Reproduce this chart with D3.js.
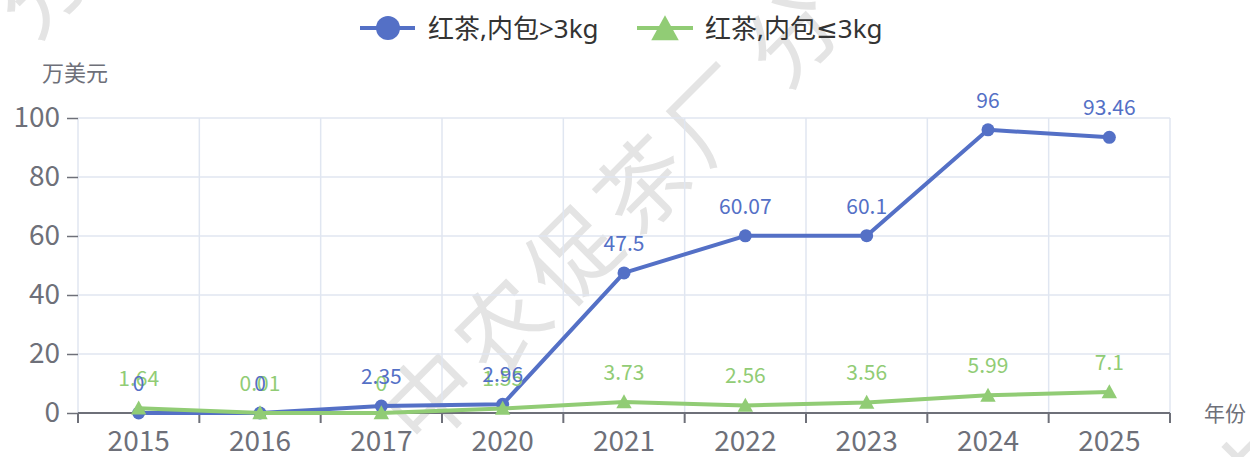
<!DOCTYPE html>
<html><head><meta charset="utf-8">
<script src="https://cdn.jsdelivr.net/npm/d3@7/dist/d3.min.js"></script>
<style>body{margin:0;background:#fff;} svg{display:block;}</style>
</head><body>
<svg id="chart" width="1250" height="457"></svg>
<script>
// ---- data ----
const years = ["2015","2016","2017","2020","2021","2022","2023","2024","2025"];
const seriesNames = ["红茶,内包>3kg", "红茶,内包≤3kg"];
const bigPack = [0, 0, 2.35, 2.96, 47.5, 60.07, 60.1, 96, 93.46];
const smallPack = [1.64, 0.01, 0, 1.55, 3.73, 2.56, 3.56, 5.99, 7.1];
const yTicks = [0, 20, 40, 60, 80, 100];
const yUnit = "万美元";
const xUnit = "年份";
const watermark = "中农促茶厂分";

// ---- setup ----
const svg = d3.select("#chart");
const FONT = "'Noto Sans CJK SC','Noto Sans',sans-serif";
const LEGFONT = "'Noto Sans','DejaVu Sans','Noto Sans CJK SC',sans-serif";
const AXIS = "#6e7079", GRID = "#e0e6f1";
const BLUE = "#5470c6", GREEN = "#91cc75";
const L = 78, R = 1170, B = 413, T = 118;

const x = d3.scaleBand().domain(years).range([L, R]);
const y = d3.scaleLinear().domain([0, 100]).range([B, T]);

// watermark
const wm = svg.append("g");
[[427, 393], [-324, 344], [1250, 470]].forEach(([wx, wy]) => {
  const g = wm.append("g").attr("transform", `translate(${wx},${wy}) rotate(-45)`);
  g.selectAll("text").data(watermark.split("")).join("text")
    .attr("x", (d, i) => i * 100 + (i >= 5 ? 10 : 0))
    .attr("y", 0)
    .attr("text-anchor", "middle")
    .attr("dominant-baseline", "central")
    .attr("font-family", FONT).attr("font-weight", 400)
    .attr("font-size", 90).attr("fill", "#e4e4e4")
    .text(d => d);
});

// grid
const bounds = years.map(d => x(d)).concat([R]);
svg.append("g").selectAll("line").data(bounds).join("line")
  .attr("x1", d => d).attr("x2", d => d).attr("y1", T).attr("y2", B)
  .attr("stroke", GRID).attr("stroke-width", 1.5);
svg.append("g").selectAll("line").data(yTicks.filter(v => v > 0)).join("line")
  .attr("x1", L).attr("x2", R).attr("y1", d => y(d)).attr("y2", d => y(d))
  .attr("stroke", GRID).attr("stroke-width", 1.5);

// y axis
const yAxis = svg.append("g").attr("transform", `translate(${L},0)`)
  .call(d3.axisLeft(y).tickValues(yTicks).tickSize(11).tickPadding(7));
yAxis.select(".domain").remove();
yAxis.selectAll("line").attr("stroke", AXIS).attr("stroke-width", 1.5);
yAxis.selectAll("text").attr("font-family", FONT).attr("font-size", 28).attr("fill", AXIS);

// x axis
const xAxis = svg.append("g").attr("transform", `translate(0,${B})`)
  .call(d3.axisBottom(x).tickSize(0).tickPadding(18));
xAxis.select(".domain").remove();
xAxis.selectAll("text").attr("font-family", FONT).attr("font-size", 28).attr("fill", AXIS);
svg.append("line").attr("x1", L).attr("x2", R).attr("y1", B).attr("y2", B)
  .attr("stroke", AXIS).attr("stroke-width", 2);
svg.append("g").selectAll("line").data(bounds).join("line")
  .attr("x1", d => d).attr("x2", d => d).attr("y1", B).attr("y2", B + 10)
  .attr("stroke", AXIS).attr("stroke-width", 2);

// axis names
svg.append("text").attr("x", 42).attr("y", 71).attr("dominant-baseline", "central")
  .attr("font-family", FONT).attr("font-size", 22).attr("fill", AXIS).text(yUnit);
svg.append("text").attr("x", 1204).attr("y", 412).attr("dominant-baseline", "central")
  .attr("font-family", FONT).attr("font-size", 21).attr("fill", AXIS).text(xUnit);

// series
const cx = d => x(d) + x.bandwidth() / 2;
const series = [
  {name: seriesNames[0], values: bigPack, color: BLUE, shape: "circle"},
  {name: seriesNames[1], values: smallPack, color: GREEN, shape: "triangle"}
];
const line = d3.line().x(d => cx(d.year)).y(d => y(d.v));
const tri = s => `M0,${-s * 0.55}L${s * 0.55},${s * 0.45}L${-s * 0.55},${s * 0.45}Z`;

series.forEach(s => {
  const pts = years.map((yr, i) => ({year: yr, v: s.values[i]}));
  svg.append("path").datum(pts).attr("d", line)
    .attr("fill", "none").attr("stroke", s.color).attr("stroke-width", 4)
    .attr("stroke-linejoin", "round");
  const mk = svg.append("g");
  if (s.shape === "circle") {
    mk.selectAll("circle").data(pts).join("circle")
      .attr("cx", d => cx(d.year)).attr("cy", d => y(d.v)).attr("r", 6.5)
      .attr("fill", s.color);
  } else {
    mk.selectAll("path").data(pts).join("path")
      .attr("transform", d => `translate(${cx(d.year)},${y(d.v)})`)
      .attr("d", tri(14)).attr("fill", s.color);
  }
  s.pts = pts;
});
series.slice().reverse().forEach(s => {
  svg.append("g").selectAll("text").data(s.pts).join("text")
    .attr("x", d => cx(d.year)).attr("y", d => y(d.v) - 22)
    .attr("text-anchor", "middle")
    .attr("font-family", FONT).attr("font-size", 21).attr("fill", s.color)
    .text(d => d.v);
});

// legend
const leg = [{x0: 360, x1: 415, mx: 388, tx: 428}, {x0: 637, x1: 693, mx: 665, tx: 705}];
series.forEach((s, i) => {
  const p = leg[i];
  const g = svg.append("g");
  g.append("line").attr("x1", p.x0).attr("x2", p.x1).attr("y1", 28).attr("y2", 28)
    .attr("stroke", s.color).attr("stroke-width", 4);
  if (s.shape === "circle") {
    g.append("circle").attr("cx", p.mx).attr("cy", 28).attr("r", 12).attr("fill", s.color);
  } else {
    g.append("path").attr("transform", `translate(${p.mx},29)`).attr("d", tri(25)).attr("fill", s.color);
  }
  g.append("text").attr("x", p.tx).attr("y", 28).attr("dominant-baseline", "central")
    .attr("font-family", LEGFONT).attr("font-size", 26).attr("fill", "#333").text(s.name);
});
</script>
</body></html>
